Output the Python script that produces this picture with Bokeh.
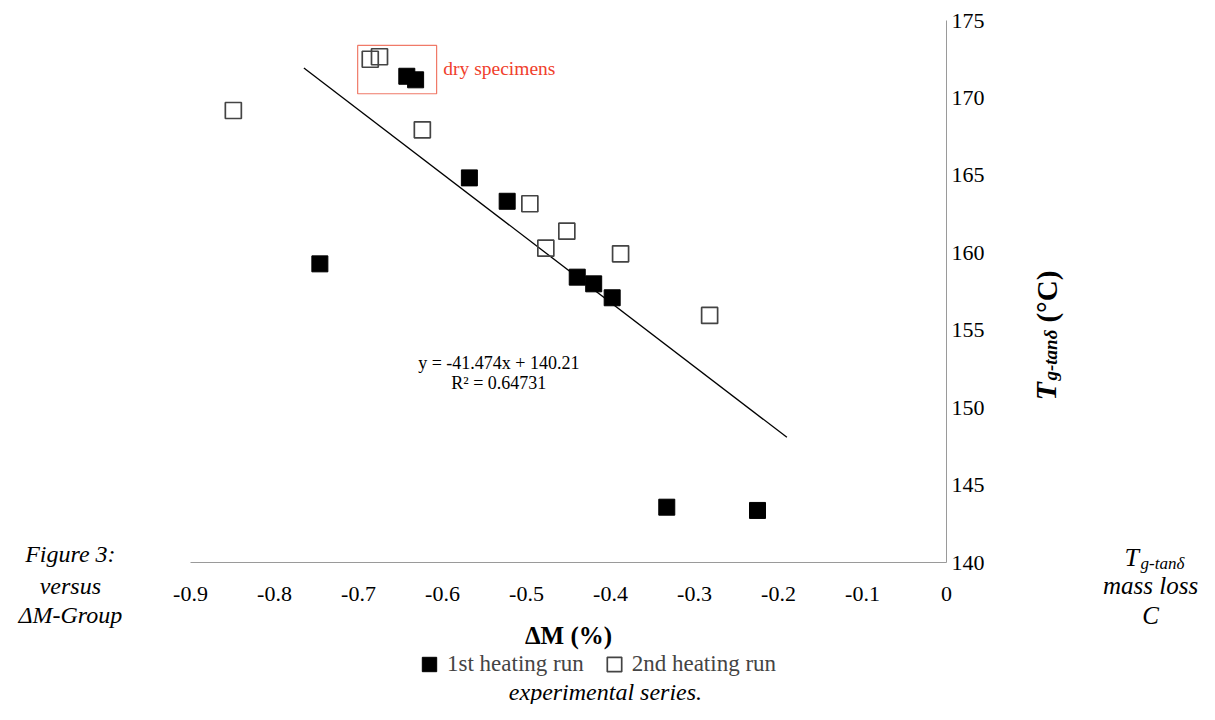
import numpy as np
from bokeh.plotting import figure
from bokeh.models import Range1d, Label, Legend, LegendItem, FixedTicker, LinearAxis
from bokeh.embed import file_html
from bokeh.resources import INLINE

# ---- data ----
run1_dm = [-0.746, -0.6425, -0.632, -0.568, -0.523, -0.4396, -0.420, -0.398, -0.333, -0.225]
run1_tg = [159.29, 171.40, 171.17, 164.84, 163.33, 158.43, 158.00, 157.10, 143.58, 143.37]

run2_dm = [-0.849, -0.686, -0.675, -0.624, -0.496, -0.477, -0.452, -0.388, -0.282]
run2_tg = [169.19, 172.50, 172.66, 167.94, 163.17, 160.30, 161.40, 159.94, 155.96]

fit_slope = -41.474
fit_intercept = 140.21
fit_dm = [-0.765, -0.19]

x_ticks = [-0.9, -0.8, -0.7, -0.6, -0.5, -0.4, -0.3, -0.2, -0.1, 0.0]
x_tick_labels = ["-0.9", "-0.8", "-0.7", "-0.6", "-0.5", "-0.4", "-0.3", "-0.2", "-0.1", "0"]
y_ticks = [140, 145, 150, 155, 160, 165, 170, 175]
x_bounds = (-0.9, 0.0)
y_bounds = (140, 175)

dry_box = dict(left=[-0.701], right=[-0.607], top=[173.39], bottom=[170.27])

SERIF = "Liberation Serif"

# The frame spans the whole canvas so that texts around the chart can be drawn;
# the axes are placed at fixed data locations (x axis at 140, y axis at 0).
W, H = 1199, 704
PX_PER_X = 840.0     # pixels per unit of ΔM
PX_PER_Y = 15.49     # pixels per °C
X0_PX, Y175_PX = 946.0, 20.0
x_range = Range1d(-X0_PX / PX_PER_X, (W - X0_PX) / PX_PER_X)
y_range = Range1d(175 - (H - Y175_PX) / PX_PER_Y, 175 + Y175_PX / PX_PER_Y)

p = figure(width=W, height=H, x_range=x_range, y_range=y_range,
           output_backend="svg", toolbar_location=None,
           x_axis_type=None, y_axis_type=None, min_border=0)
p.outline_line_color = None
p.grid.visible = False
p.background_fill_color = "white"

xa = LinearAxis(fixed_location=y_bounds[0], bounds=x_bounds, ticker=FixedTicker(ticks=x_ticks))
xa.major_label_overrides = {t: l for t, l in zip(x_ticks, x_tick_labels)}
ya = LinearAxis(fixed_location=x_bounds[1], bounds=y_bounds, ticker=FixedTicker(ticks=y_ticks))
for ax in (xa, ya):
    ax.axis_line_color = "#9a9a9a"
    ax.axis_line_width = 1
    ax.major_tick_line_color = None
    ax.minor_tick_line_color = None
    ax.major_tick_out = 0
    ax.major_tick_in = 0
    ax.major_label_text_font = SERIF
    ax.major_label_text_font_size = "22px"
    ax.major_label_text_color = "black"
xa.major_label_standoff = 24
ya.major_label_standoff = 5
xa.axis_label = "ΔM (%)"
xa.axis_label_text_font = SERIF
xa.axis_label_text_font_style = "bold"
xa.axis_label_text_font_size = "25px"
xa.axis_label_text_color = "black"
xa.axis_label_standoff = 18
p.add_layout(xa, "below")
p.add_layout(ya, "right")

# trendline
fx = np.array(fit_dm)
p.line(fx, fit_slope * fx + fit_intercept, line_color="black", line_width=1.3)

# dry specimens box
p.quad(left=dry_box["left"], right=dry_box["right"], top=dry_box["top"], bottom=dry_box["bottom"],
       fill_color=None, line_color="#f07a68", line_width=1.2)

r1 = p.scatter(run1_dm, run1_tg, marker="square", size=16, fill_color="black", line_color="black")
r2 = p.scatter(run2_dm, run2_tg, marker="square", size=16, fill_color=None,
               line_color="#444444", line_width=1.7)

legend = Legend(items=[LegendItem(label="1st heating run", renderers=[r1]),
                       LegendItem(label="2nd heating run", renderers=[r2])],
                orientation="horizontal", location=(411, 22),
                label_text_font=SERIF, label_text_font_size="23px",
                glyph_width=36, glyph_height=36, label_standoff=0, spacing=12,
                padding=0, margin=0, border_line_color=None, background_fill_alpha=0)
p.add_layout(legend)

def lab(x, y, text, size, style="normal", align="center", baseline="middle", color="black", angle=0):
    p.add_layout(Label(x=x, y=y, text=text, text_font=SERIF, text_font_size=size,
                       text_font_style=style, text_align=align, text_baseline=baseline,
                       text_color=color, angle=angle))

# annotations in the plot
lab(-0.533, 152.92, "y = -41.474x + 140.21", "18px")
lab(-0.533, 151.63, "R² = 0.64731", "18px")
lab(-0.599, 171.9, "dry specimens", "19.5px", align="left", color="#f0402c")

# y axis title (rotated, with subscript)
lab(0.1179, 150.47, "T", "30px", style="bold italic", align="left", baseline="alphabetic", angle=np.pi / 2)
lab(0.1238, 151.76, "g-tanδ", "19px", style="bold italic", align="left", baseline="alphabetic", angle=np.pi / 2)
lab(0.1202, 155.5, "(°C)", "29px", style="bold", align="left", baseline="alphabetic", angle=np.pi / 2)

# caption fragments
lab(-1.043, 140.59, "Figure 3:", "24px", style="italic")
lab(-1.043, 138.52, "versus", "24px", style="italic")
lab(-1.043, 136.59, "ΔM-Group", "24px", style="italic")
lab(0.2119, 140.33, "T", "26px", style="italic", align="left")
lab(0.2310, 139.95, "g-tanδ", "17px", style="italic", align="left")
lab(0.2429, 138.52, "mass loss", "25px", style="italic")
lab(0.2429, 136.59, "C", "25px", style="italic")
lab(-0.406, 131.68, "experimental series.", "24px", style="italic")

open("out.html", "w").write(file_html(p, INLINE))
